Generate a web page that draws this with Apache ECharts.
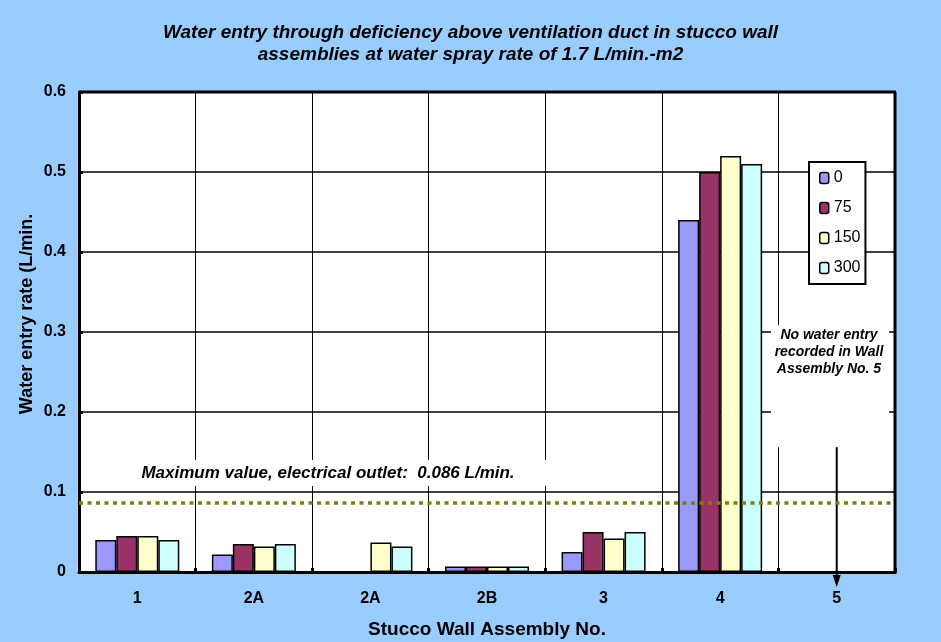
<!DOCTYPE html>
<html><head><meta charset="utf-8">
<script src="https://cdn.jsdelivr.net/npm/echarts@6/dist/echarts.min.js"></script>
<style>html,body{margin:0;padding:0;background:#99CCFF;}#c{width:941px;height:642px;}</style>
</head><body><div id="c"></div>
<script>
var categories = ['1', '2A', '2A', '2B', '3', '4', '5'];
var seriesNames = ['0', '75', '150', '300'];
var s0 = [0.040, 0.022, null, 0.007, 0.025, 0.440, null];
var s75 = [0.045, 0.035, null, 0.007, 0.050, 0.500, null];
var s150 = [0.045, 0.032, 0.037, 0.007, 0.042, 0.520, null];
var s300 = [0.040, 0.035, 0.032, 0.007, 0.050, 0.510, null];
var outletMax = 0.086;
var yTicks = [0, 0.1, 0.2, 0.3, 0.4, 0.5, 0.6];
var arrowTopValue = 0.156;
var colors = ['#9999FF', '#993366', '#FFFFCC', '#CCFFFF'];

var chart = echarts.init(document.getElementById('c'));
var allData = [s0, s75, s150, s300];
var series = allData.map(function (d, i) {
  var s = {
    name: seriesNames[i], type: 'bar', data: d,
    barWidth: 21, barGap: '0%',
    itemStyle: { color: colors[i], borderColor: '#000', borderWidth: 1.5 },
    z: 3
  };
  if (i === 0) {
    s.markLine = {
      silent: true, symbol: 'none', label: { show: false }, precision: 4,
      lineStyle: { color: '#808000', width: 3.5, type: [4, 4.5] },
      data: [{ yAxis: outletMax }], z: 8
    };
  }
  return s;
});

chart.setOption({
  backgroundColor: '#99CCFF',
  animation: false,
  title: {
    text: 'Water entry through deficiency above ventilation duct in stucco wall\nassemblies at water spray rate of 1.7 L/min.-m2',
    left: 'center', top: 17,
    textStyle: { fontFamily: 'Liberation Sans', fontStyle: 'italic', fontWeight: 'bold', fontSize: 19, lineHeight: 22, color: '#000' }
  },
  grid: { left: 79, right: 46, top: 92, bottom: 70, show: true, backgroundColor: '#fff', borderColor: '#000', borderWidth: 0,
    containLabel: false, outerBoundsMode: 'none' },
  legend: {
    orient: 'vertical', left: 809, top: 162,
    backgroundColor: '#fff', borderColor: '#000', borderWidth: 2,
    padding: [8, 5, 8, 10], itemGap: 14, itemWidth: 9, itemHeight: 11,
    textStyle: { fontFamily: 'Liberation Sans', fontSize: 16, lineHeight: 16, color: '#000' },
    itemStyle: { borderColor: '#000', borderWidth: 1.5 },
    data: seriesNames
  },
  xAxis: {
    type: 'category', data: categories,
    name: 'Stucco Wall Assembly No.', nameLocation: 'middle', nameGap: 48, nameMoveOverlap: false,
    nameTextStyle: { fontFamily: 'Liberation Sans', fontWeight: 'bold', fontSize: 19, color: '#000' },
    axisLine: { show: true, lineStyle: { color: '#000', width: 3 } },
    axisTick: { show: true, inside: true, length: 4, lineStyle: { color: '#000', width: 3 } },
    axisLabel: { margin: 19, fontFamily: 'Liberation Sans', fontWeight: 'bold', fontSize: 16, color: '#000' },
    splitLine: { show: true, lineStyle: { color: '#000', width: 1 } }
  },
  yAxis: {
    type: 'value', min: 0, max: 0.6, interval: 0.1,
    name: 'Water entry rate (L/min.', nameLocation: 'middle', nameGap: 43, nameMoveOverlap: false,
    nameTextStyle: { fontFamily: 'Liberation Sans', fontWeight: 'bold', fontSize: 18, color: '#000', padding: [0, 0, 0, 36] },
    axisLine: { show: true, lineStyle: { color: '#000', width: 3 } },
    axisTick: { show: true, inside: true, length: 4, lineStyle: { color: '#000', width: 3 } },
    axisLabel: {
      margin: 13, fontFamily: 'Liberation Sans', fontWeight: 'bold', fontSize: 16, color: '#000',
      formatter: function (v) {
        for (var k = 0; k < yTicks.length; k++) { if (Math.abs(yTicks[k] - v) < 1e-9) return String(yTicks[k]); }
        return '';
      }
    },
    splitLine: { show: true, lineStyle: { color: '#000', width: 1.5 } }
  },
  series: series
});

function drawOverlay() {
  var x5 = chart.convertToPixel({ xAxisIndex: 0 }, 6);
  var yTop = chart.convertToPixel({ yAxisIndex: 0 }, arrowTopValue);
  var y0 = chart.convertToPixel({ yAxisIndex: 0 }, 0);
  var yMax = chart.convertToPixel({ yAxisIndex: 0 }, 0.6);
  chart.setOption({
    graphic: [
      { type: 'line', z: 10, shape: { x1: 79, y1: yMax, x2: 896, y2: yMax }, style: { stroke: '#000', lineWidth: 3 } },
      { type: 'line', z: 10, shape: { x1: 895, y1: yMax, x2: 895, y2: y0 + 1.5 }, style: { stroke: '#000', lineWidth: 3 } },
      { type: 'rect', z: 1, shape: { x: 112, y: 460, width: 440, height: 26 }, style: { fill: '#fff' } },
      { type: 'text', z: 2, style: { x: 328, y: 473, text: 'Maximum value, electrical outlet:  0.086 L/min.', align: 'center', verticalAlign: 'middle',
        font: 'italic bold 17px "Liberation Sans"', fill: '#000' } },
      { type: 'rect', z: 1, shape: { x: 771, y: 325, width: 118, height: yTop - 325 }, style: { fill: '#fff' } },
      { type: 'text', z: 2, style: { x: 829, y: 352, text: 'No water entry\nrecorded in Wall\nAssembly No. 5', align: 'center', verticalAlign: 'middle',
        lineHeight: 17, font: 'italic bold 14px "Liberation Sans"', fill: '#000' } },
      { type: 'line', z: 5, shape: { x1: x5, y1: yTop, x2: x5, y2: y0 + 6 }, style: { stroke: '#000', lineWidth: 2 } },
      { type: 'polygon', z: 5, shape: { points: [[x5 - 4, y0 + 3], [x5 + 4, y0 + 3], [x5, y0 + 15]] }, style: { fill: '#000' } }
    ]
  });
}
drawOverlay();
</script>
</body></html>
